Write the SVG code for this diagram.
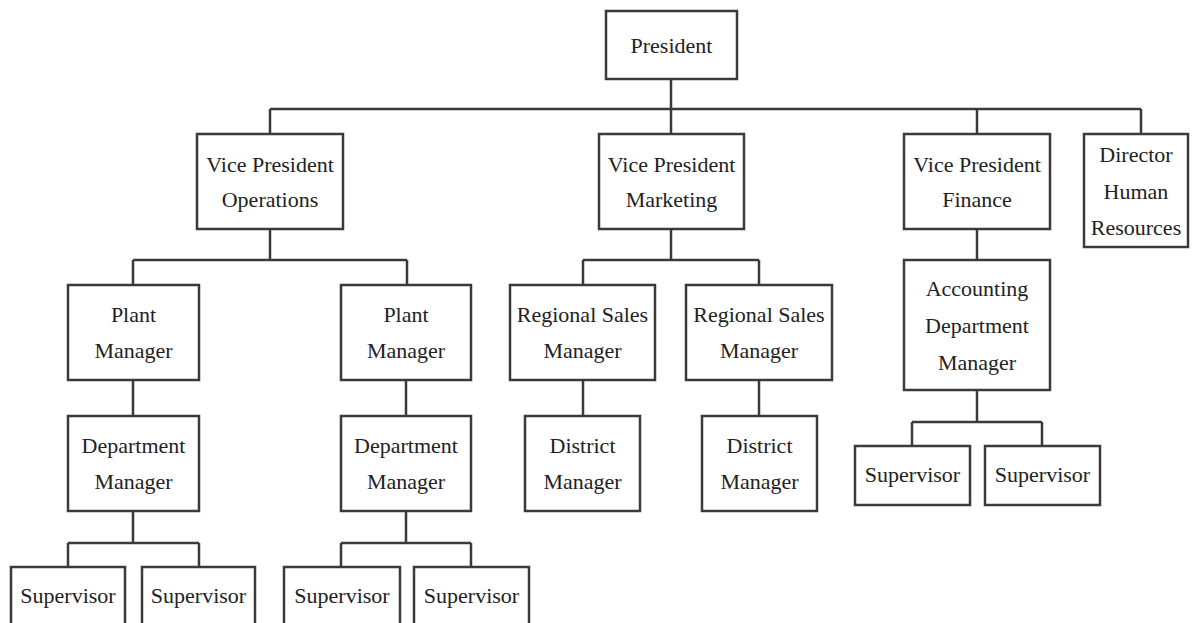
<svg xmlns="http://www.w3.org/2000/svg" width="1192" height="623" viewBox="0 0 1192 623">
<style>
.box{fill:#fff;stroke:#3a3a3a;stroke-width:2.5}
.lbl{font-family:"Liberation Serif",serif;font-size:22px;fill:#222;text-anchor:middle}
.conn{fill:none;stroke:#3a3a3a;stroke-width:2.5}
</style>
<rect width="1192" height="623" fill="#fff"/>
<g id="connectors" class="conn">
<path d="M671 79V109M270 109H1141M270 109V134M671 109V134M977 109V134M1141 109V134"/>
<path d="M270 229V260M133 260H407M133 260V285M407 260V285"/>
<path d="M671 229V260M583 260H759M583 260V285M759 260V285"/>
<path d="M977 229V260"/>
<path d="M133 380V416M406 380V416M583 380V416M759 380V416"/>
<path d="M133 511V543M68 543H199M68 543V567M199 543V567"/>
<path d="M406 511V543M341 543H471M341 543V567M471 543V567"/>
<path d="M977 390V422M912 422H1042M912 422V446M1042 422V446"/>
</g>
<g id="president"><rect class="box" x="606" y="11" width="131" height="68"/><text class="lbl" x="671.5" y="53">President</text></g>
<g id="vp_operations"><rect class="box" x="197" y="134" width="146" height="95"/><text class="lbl" x="270" y="172">Vice President</text><text class="lbl" x="270" y="207">Operations</text></g>
<g id="vp_marketing"><rect class="box" x="599" y="134" width="145" height="95"/><text class="lbl" x="671.5" y="172">Vice President</text><text class="lbl" x="671.5" y="207">Marketing</text></g>
<g id="vp_finance"><rect class="box" x="904" y="134" width="146" height="95"/><text class="lbl" x="977" y="172">Vice President</text><text class="lbl" x="977" y="207">Finance</text></g>
<g id="director_hr"><rect class="box" x="1084" y="134" width="104" height="113"/><text class="lbl" x="1136" y="162">Director</text><text class="lbl" x="1136" y="199">Human</text><text class="lbl" x="1136" y="235">Resources</text></g>
<g id="plant_manager_1"><rect class="box" x="68" y="285" width="131" height="95"/><text class="lbl" x="133.5" y="322">Plant</text><text class="lbl" x="133.5" y="358">Manager</text></g>
<g id="plant_manager_2"><rect class="box" x="341" y="285" width="130" height="95"/><text class="lbl" x="406" y="322">Plant</text><text class="lbl" x="406" y="358">Manager</text></g>
<g id="regional_sales_1"><rect class="box" x="510" y="285" width="145" height="95"/><text class="lbl" x="582.5" y="322">Regional Sales</text><text class="lbl" x="582.5" y="358">Manager</text></g>
<g id="regional_sales_2"><rect class="box" x="686" y="285" width="146" height="95"/><text class="lbl" x="759" y="322">Regional Sales</text><text class="lbl" x="759" y="358">Manager</text></g>
<g id="accounting_manager"><rect class="box" x="904" y="260" width="146" height="130"/><text class="lbl" x="977" y="296">Accounting</text><text class="lbl" x="977" y="333">Department</text><text class="lbl" x="977" y="370">Manager</text></g>
<g id="department_manager_1"><rect class="box" x="68" y="416" width="131" height="95"/><text class="lbl" x="133.5" y="453">Department</text><text class="lbl" x="133.5" y="489">Manager</text></g>
<g id="department_manager_2"><rect class="box" x="341" y="416" width="130" height="95"/><text class="lbl" x="406" y="453">Department</text><text class="lbl" x="406" y="489">Manager</text></g>
<g id="district_manager_1"><rect class="box" x="525" y="416" width="115" height="95"/><text class="lbl" x="582.5" y="453">District</text><text class="lbl" x="582.5" y="489">Manager</text></g>
<g id="district_manager_2"><rect class="box" x="702" y="416" width="115" height="95"/><text class="lbl" x="759.5" y="453">District</text><text class="lbl" x="759.5" y="489">Manager</text></g>
<g id="supervisor_1"><rect class="box" x="11" y="567" width="114" height="60"/><text class="lbl" x="68" y="603">Supervisor</text></g>
<g id="supervisor_2"><rect class="box" x="142" y="567" width="113" height="60"/><text class="lbl" x="198.5" y="603">Supervisor</text></g>
<g id="supervisor_3"><rect class="box" x="284" y="567" width="116" height="60"/><text class="lbl" x="342" y="603">Supervisor</text></g>
<g id="supervisor_4"><rect class="box" x="414" y="567" width="115" height="60"/><text class="lbl" x="471.5" y="603">Supervisor</text></g>
<g id="supervisor_5"><rect class="box" x="855" y="446" width="115" height="59"/><text class="lbl" x="912.5" y="482">Supervisor</text></g>
<g id="supervisor_6"><rect class="box" x="985" y="446" width="115" height="59"/><text class="lbl" x="1042.5" y="482">Supervisor</text></g>
</svg>
